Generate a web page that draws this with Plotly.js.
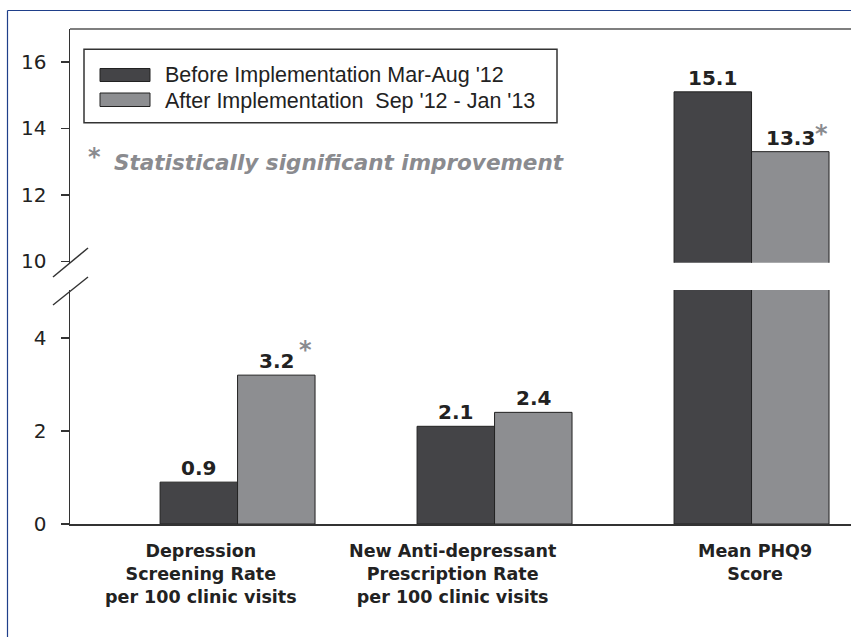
<!DOCTYPE html>
<html><head><meta charset="utf-8">
<script src="https://cdn.plot.ly/plotly-3.0.1.min.js"></script>
<style>html,body{margin:0;padding:0;background:#fff;}#chart{width:851px;height:637px;}</style>
</head><body><div id="chart"></div>
<script>
// ---- data ----
const categories = ["Depression<br>Screening Rate<br>per 100 clinic visits",
                    "New Anti-depressant<br>Prescription Rate<br>per 100 clinic visits",
                    "Mean PHQ9<br>Score"];
const seriesNames = ["Before Implementation Mar-Aug '12",
                     "After Implementation\u00a0 Sep '12 - Jan '13"];
const beforeValues = [0.9, 2.1, 15.1];
const afterValues = [3.2, 2.4, 13.3];
const afterSignificant = [true, false, true];
const lowerTicks = [0, 2, 4];
const upperTicks = [10, 12, 14, 16];
const noteText = "Statistically significant improvement";

// ---- geometry / style ----
const L = 70, T = 29, W = 781, H = 495;
const px = x => (x - L) / W;
const py = y => (T + H - y) / H;
const lowerRange = [0, 5.03];
const upperRange = [9.96, 16.99];
const bargap = 0.397;
const half = (1 - bargap) / 4;
const colBefore = '#444447', colAfter = '#8d8e91', dark = '#222222', grey = '#8a8b8f', axisCol = '#333333';
const sans = 'DejaVu Sans, Arial, sans-serif';
const arial = 'Liberation Sans, Arial, sans-serif';

const xs = categories.map((_, i) => i);
const traces = [];
['y', 'y2'].forEach(ya => {
  traces.push({type: 'bar', x: xs, y: beforeValues, name: seriesNames[0], xaxis: 'x', yaxis: ya,
    marker: {color: colBefore, line: {color: dark, width: 1}}, hoverinfo: 'skip', showlegend: false});
  traces.push({type: 'bar', x: xs, y: afterValues, name: seriesNames[1], xaxis: 'x', yaxis: ya,
    marker: {color: colAfter, line: {color: dark, width: 1}}, hoverinfo: 'skip', showlegend: false});
});

const annotations = [];
const valFont = {family: sans, size: 20, color: dark};
function pickAxis(v) { return v > lowerRange[1] ? 'y2' : 'y'; }
xs.forEach(i => {
  [[beforeValues[i], -half], [afterValues[i], half]].forEach(([v, off]) => {
    annotations.push({x: i + off, y: v, xref: 'x', yref: pickAxis(v), text: '<b>' + v.toFixed(1) + '</b>',
      showarrow: false, xanchor: 'center', yanchor: 'bottom', yshift: 0, font: valFont});
  });
  if (afterSignificant[i]) {
    const v = afterValues[i];
    const shifts = v > lowerRange[1] ? [31.5, 18] : [28.7, 25.5];
    annotations.push({x: i + half, y: v, xref: 'x', yref: pickAxis(v), text: '<b>*</b>', showarrow: false,
      xanchor: 'center', yanchor: 'middle', xshift: shifts[0], yshift: shifts[1],
      font: {family: sans, size: 24, color: grey}});
  }
});
// category labels
const labelShift = [-36.8, -42.5, 3.8];
xs.forEach(i => {
  annotations.push({x: i, y: 0, xref: 'x', yref: 'paper', text: '<b>' + categories[i] + '</b>',
    showarrow: false, xanchor: 'center', yanchor: 'top', xshift: labelShift[i], yshift: -15,
    align: 'center', font: {family: sans, size: 17.5, color: dark}});
});
// legend texts
annotations.push({x: px(163), y: py(74.5), xref: 'paper', yref: 'paper', text: seriesNames[0], showarrow: false,
  xanchor: 'left', yanchor: 'middle', font: {family: arial, size: 21.5, color: dark}});
annotations.push({x: px(163), y: py(100.5), xref: 'paper', yref: 'paper', text: seriesNames[1], showarrow: false,
  xanchor: 'left', yanchor: 'middle', font: {family: arial, size: 21.5, color: dark}});
// significance note
annotations.push({x: px(94.5), y: py(151), xref: 'paper', yref: 'paper', text: '<b>*</b>', showarrow: false,
  xanchor: 'center', yanchor: 'middle', yshift: -5.6, font: {family: sans, size: 24, color: grey}});
annotations.push({x: px(111.5), y: py(162.5), xref: 'paper', yref: 'paper', text: '<b><i>' + noteText + '</i></b>',
  showarrow: false, xanchor: 'left', yanchor: 'middle', font: {family: sans, size: 21.5, color: grey}});

const shapes = [
  // outer blue frame
  {type: 'line', xref: 'paper', yref: 'paper', x0: px(7.5), x1: px(851), y0: py(10.5), y1: py(10.5), line: {color: '#1f3f8a', width: 1.2}},
  {type: 'line', xref: 'paper', yref: 'paper', x0: px(7.5), x1: px(7.5), y0: py(10.5), y1: py(637), line: {color: '#1f3f8a', width: 1.2}},
  // top frame of plot
  {type: 'line', xref: 'paper', yref: 'paper', x0: 0, x1: 1, y0: 1, y1: 1, line: {color: '#555555', width: 1.3}},
  // axis break slashes
  {type: 'line', xref: 'paper', yref: 'paper', x0: px(53), x1: px(88), y0: py(277), y1: py(248), line: {color: axisCol, width: 1.5}},
  {type: 'line', xref: 'paper', yref: 'paper', x0: px(53), x1: px(88), y0: py(305), y1: py(277), line: {color: axisCol, width: 1.5}},
  // legend box
  {type: 'rect', xref: 'paper', yref: 'paper', x0: px(84), x1: px(557), y0: py(122.7), y1: py(49.3), line: {color: axisCol, width: 1.5}, fillcolor: 'rgba(0,0,0,0)'},
  // legend swatches
  {type: 'rect', xref: 'paper', yref: 'paper', x0: px(100), x1: px(150), y0: py(81.5), y1: py(68.5), line: {color: dark, width: 1}, fillcolor: colBefore},
  {type: 'rect', xref: 'paper', yref: 'paper', x0: px(100), x1: px(150), y0: py(106.5), y1: py(93), line: {color: dark, width: 1}, fillcolor: colAfter}
];

const yCommon = {showgrid: false, zeroline: false, showline: true, linecolor: axisCol, linewidth: 1.5,
  ticks: 'outside', ticklen: 8, tickwidth: 1.5, tickcolor: axisCol, tickmode: 'array',
  tickfont: {family: sans, size: 20, color: dark}, ticklabelstandoff: 10, anchor: 'x', fixedrange: true};

const layout = {
  width: 851, height: 637,
  margin: {l: L, r: 0, t: T, b: 637 - T - H, pad: 0},
  paper_bgcolor: '#ffffff', plot_bgcolor: 'rgba(0,0,0,0)',
  barmode: 'group', bargap: bargap, bargroupgap: 0,
  showlegend: false,
  xaxis: {type: 'linear', range: [-0.652, 2.387], showgrid: false, zeroline: false, showline: true,
    linecolor: axisCol, linewidth: 1.5, ticks: '', showticklabels: false, anchor: 'y', fixedrange: true},
  yaxis: Object.assign({}, yCommon, {domain: [0, py(290)], range: lowerRange, tickvals: lowerTicks}),
  yaxis2: Object.assign({}, yCommon, {domain: [py(262.7), 1], range: upperRange, tickvals: upperTicks}),
  annotations: annotations,
  shapes: shapes
};

Plotly.newPlot('chart', traces, layout, {displayModeBar: false, staticPlot: true});
</script>
</body></html>
